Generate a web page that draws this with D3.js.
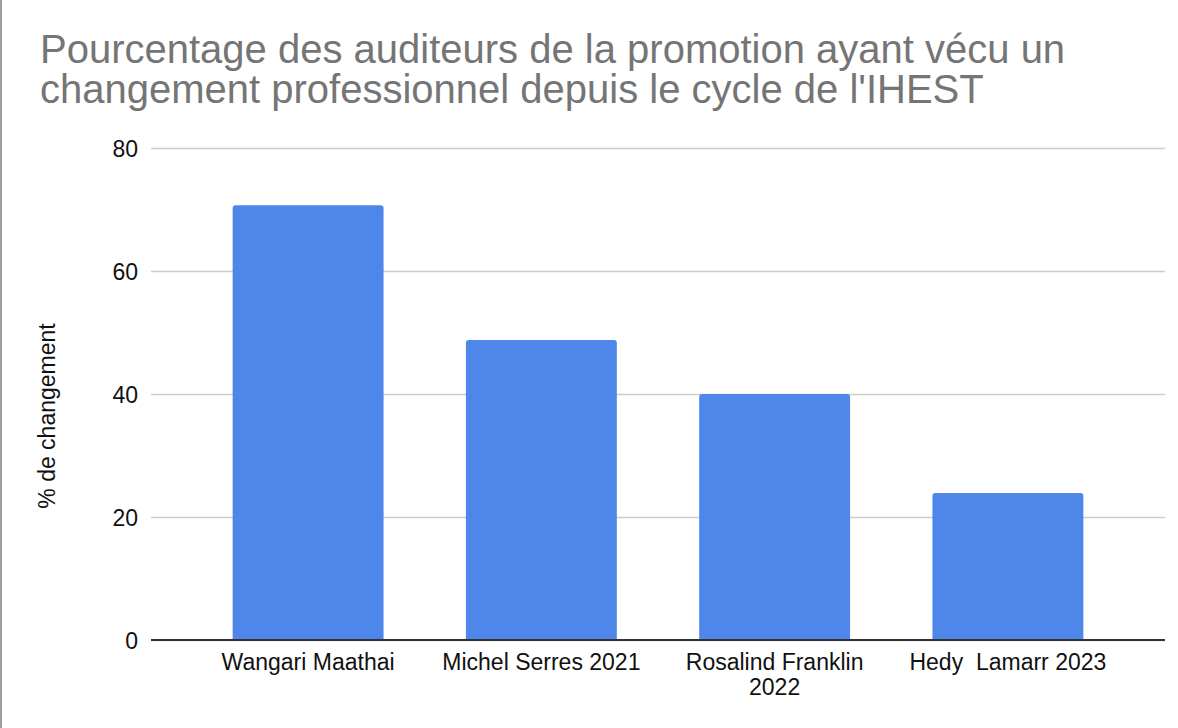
<!DOCTYPE html>
<html><head><meta charset="utf-8">
<script src="https://cdn.jsdelivr.net/npm/d3@7"></script>
<style>body{margin:0;background:#fff;}svg{display:block;font-family:"Liberation Sans",Arial,sans-serif;}text{white-space:pre;}</style>
</head><body>
<svg id="c" width="1178" height="728"></svg>
<script>
const categories = [["Wangari Maathai"], ["Michel Serres 2021"], ["Rosalind Franklin", "2022"], ["Hedy  Lamarr 2023"]];
const values = [70.7, 48.8, 40, 23.9];
const yTicks = [0, 20, 40, 60, 80];
const titleLines = ["Pourcentage des auditeurs de la promotion ayant vécu un", "changement professionnel depuis le cycle de l'IHEST"];
const yLabel = "% de changement";

(function () {
const svg = d3.select("#c");
const mLeft = 151, mRight = 1165, mTop = 148, mBottom = 640;
const fs = 23;

svg.append("rect").attr("x", 0).attr("y", 0).attr("width", 2).attr("height", 728).attr("fill", "#9e9e9e");

const keys = categories.map(c => c.join(" "));
const x = d3.scaleBand().domain(keys).range([mLeft, mRight]).paddingInner(0.353).paddingOuter(0.35);
const y = d3.scaleLinear().domain([0, 80]).range([mBottom, mTop]);

// title
const t = svg.append("text").attr("fill", "#757575").attr("font-size", 40);
titleLines.forEach((l, i) => t.append("tspan").attr("x", 40).attr("y", 63 + i * 40).text(l));

// grid
const gy = svg.append("g").attr("transform", `translate(${mLeft},0)`)
  .call(d3.axisLeft(y).tickValues(yTicks).tickSize(-(mRight - mLeft)).tickPadding(13));
gy.select(".domain").remove();
gy.selectAll(".tick line").attr("stroke", "#cccccc").attr("stroke-width", 1.3);
gy.selectAll(".tick text").attr("font-size", fs).attr("fill", "#111").attr("dy", "0.35em")
  .attr("font-family", "Liberation Sans, Arial, sans-serif");

// bars with rounded top corners
const r = 3;
svg.append("g").selectAll("path").data(values).join("path")
  .attr("fill", "#4f86e9")
  .attr("d", (d, i) => {
    const x0 = x(keys[i]), w = x.bandwidth(), y0 = y(d), yb = y(0);
    return `M${x0},${yb}V${y0 + r}Q${x0},${y0} ${x0 + r},${y0}H${x0 + w - r}Q${x0 + w},${y0} ${x0 + w},${y0 + r}V${yb}Z`;
  });

// baseline
const gx = svg.append("g").attr("transform", `translate(0,${mBottom})`)
  .call(d3.axisBottom(x).tickSize(0).tickFormat(""));
gx.select(".domain").attr("stroke", "#333").attr("stroke-width", 2).attr("d", `M${mLeft},0H${mRight}`);

// x labels
categories.forEach((c, i) => {
  const tx = svg.append("text").attr("text-anchor", "middle").attr("font-size", fs).attr("fill", "#111");
  c.forEach((l, j) => tx.append("tspan").attr("x", x(keys[i]) + x.bandwidth() / 2).attr("y", 670 + j * 25).text(l));
});

// y label
svg.append("text").attr("transform", "translate(55,416) rotate(-90)").attr("text-anchor", "middle")
  .attr("font-size", fs).attr("fill", "#111").text(yLabel);
})();
</script>
</body></html>
